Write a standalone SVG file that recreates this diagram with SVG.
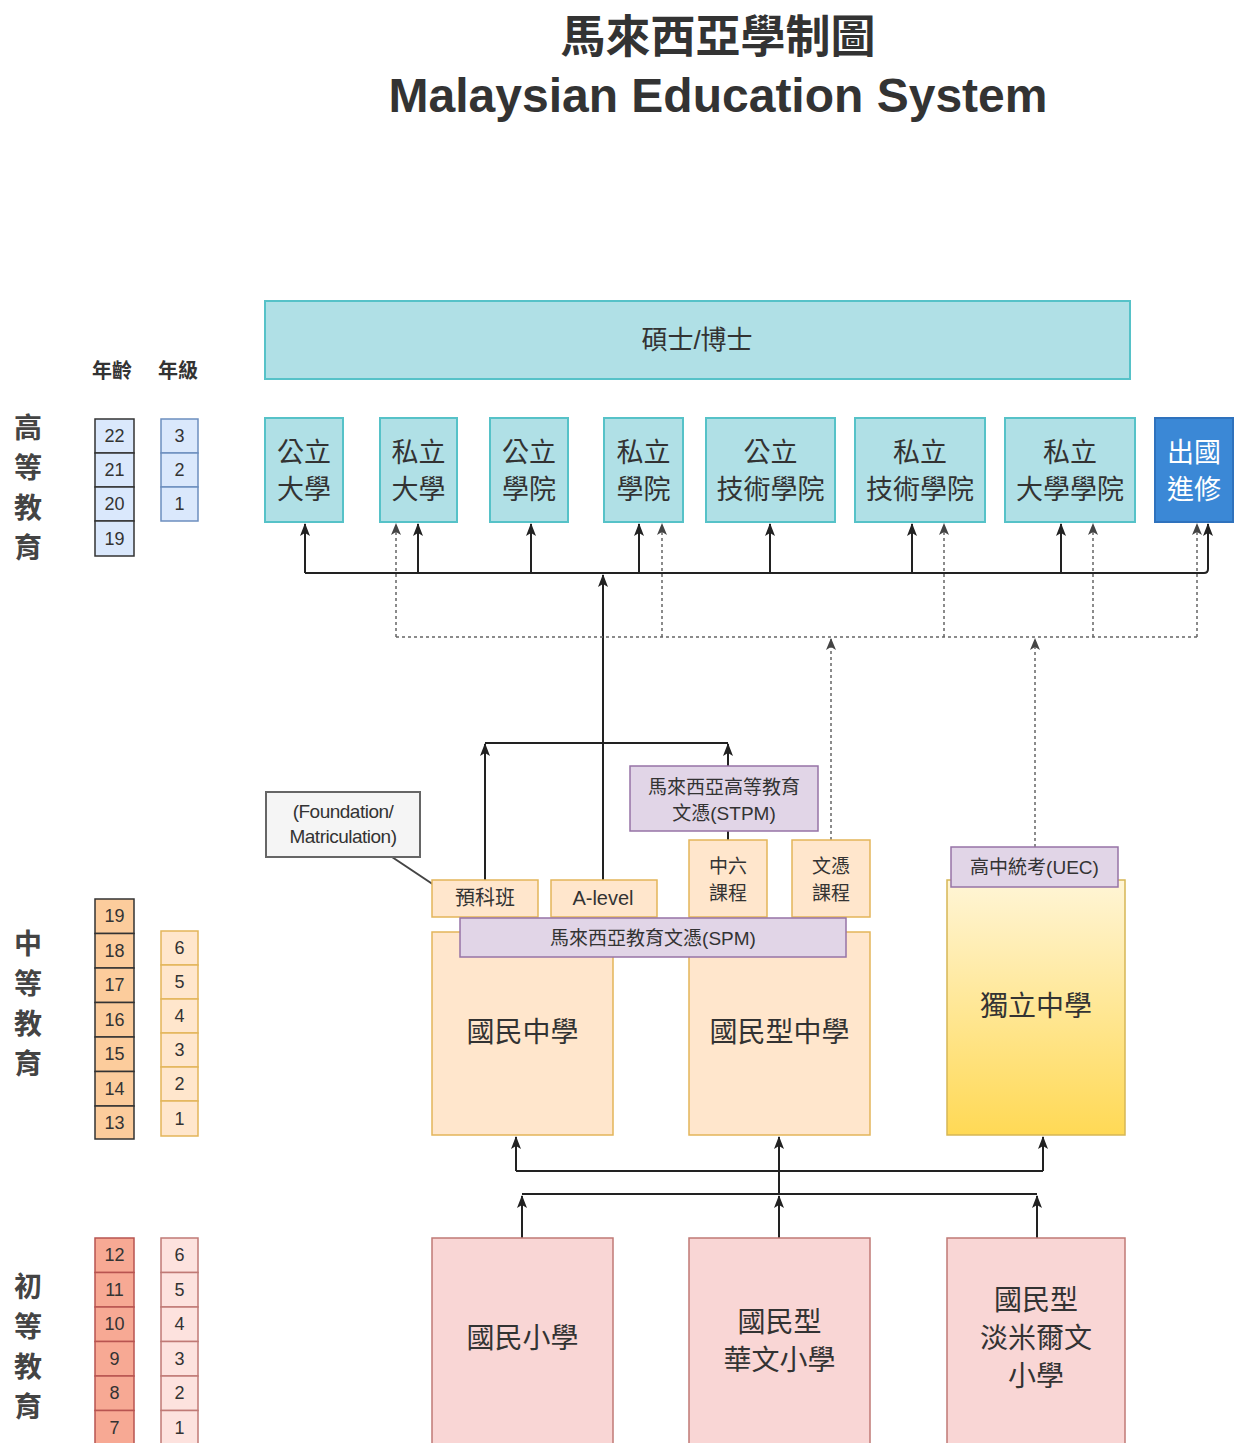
<svg xmlns="http://www.w3.org/2000/svg" width="1238" height="1443" viewBox="0 0 1238 1443">
<style>
.cjk{font-family:"Noto Sans CJK TC","Noto Sans CJK SC",sans-serif;fill:#333;text-anchor:middle}
.lat{font-family:"Liberation Sans",Arial,sans-serif;fill:#333;text-anchor:middle}
.mix{font-family:"Liberation Sans","Noto Sans CJK TC",sans-serif;fill:#333;text-anchor:middle}
.uni{fill:#b0e0e6;stroke:#56c2c8;stroke-width:2}
.sec{fill:#ffe6cc;stroke:#e3b55a;stroke-width:1.5}
.exam{fill:#e1d5e7;stroke:#9673a6;stroke-width:1.5}
.pri{fill:#f9d6d5;stroke:#c07a76;stroke-width:1.5}
.solid{fill:none;stroke:#222;stroke-width:2}
.dash{fill:none;stroke:#666;stroke-width:1.5;stroke-dasharray:3 3}
.num{font-family:"Liberation Sans",Arial,sans-serif;font-size:18px;fill:#333;text-anchor:middle}
.side{font-family:"Noto Sans CJK TC",sans-serif;font-size:28px;font-weight:bold;fill:#444;text-anchor:middle}
</style>
<defs>
<marker id="ah" markerWidth="13" markerHeight="10" refX="12" refY="5" orient="auto" markerUnits="userSpaceOnUse" viewBox="0 0 13 10">
<path d="M0 0 L13 5 L0 10 L3 5 Z" fill="#222"/>
</marker>
<marker id="ahg" markerWidth="12" markerHeight="10" refX="11" refY="5" orient="auto" markerUnits="userSpaceOnUse" viewBox="0 0 12 10">
<path d="M0 0 L12 5 L0 10 L3 5 Z" fill="#444"/>
</marker>
<linearGradient id="gy" x1="0" y1="0" x2="0" y2="1">
<stop offset="0" stop-color="#fff5d6"/>
<stop offset="1" stop-color="#ffd955"/>
</linearGradient>
</defs>

<g id="title">
<text x="718" y="53" class="cjk" font-size="45" font-weight="bold">馬來西亞學制圖</text>
<text x="718" y="112" class="lat" font-size="48" font-weight="bold">Malaysian Education System</text>
</g>

<g id="legend-headers">
<text x="112" y="378" class="cjk" font-size="20" font-weight="bold">年齡</text>
<text x="178" y="378" class="cjk" font-size="20" font-weight="bold">年級</text>
</g>

<g id="side-higher">
<text x="28" y="438" class="side">高</text>
<text x="28" y="478" class="side">等</text>
<text x="28" y="518" class="side">教</text>
<text x="28" y="558" class="side">育</text>
</g>
<g id="side-secondary">
<text x="28" y="954" class="side">中</text>
<text x="28" y="994" class="side">等</text>
<text x="28" y="1034" class="side">教</text>
<text x="28" y="1074" class="side">育</text>
</g>
<g id="side-primary">
<text x="28" y="1297" class="side">初</text>
<text x="28" y="1337" class="side">等</text>
<text x="28" y="1377" class="side">教</text>
<text x="28" y="1417" class="side">育</text>
</g>

<g id="age-higher">
<rect x="95" y="419" width="39" height="34" fill="#dae8fc" stroke="#333" stroke-width="1.5"/>
<rect x="95" y="453" width="39" height="34" fill="#dae8fc" stroke="#333" stroke-width="1.5"/>
<rect x="95" y="487" width="39" height="34" fill="#dae8fc" stroke="#333" stroke-width="1.5"/>
<rect x="95" y="521" width="39" height="35" fill="#dae8fc" stroke="#333" stroke-width="1.5"/>
<text x="114.5" y="442" class="num">22</text>
<text x="114.5" y="476" class="num">21</text>
<text x="114.5" y="510" class="num">20</text>
<text x="114.5" y="545" class="num">19</text>
</g>
<g id="grade-higher">
<rect x="161" y="419" width="37" height="34" fill="#dae8fc" stroke="#6c8ebf" stroke-width="1.5"/>
<rect x="161" y="453" width="37" height="34" fill="#dae8fc" stroke="#6c8ebf" stroke-width="1.5"/>
<rect x="161" y="487" width="37" height="34" fill="#dae8fc" stroke="#6c8ebf" stroke-width="1.5"/>
<text x="179.5" y="442" class="num">3</text>
<text x="179.5" y="476" class="num">2</text>
<text x="179.5" y="510" class="num">1</text>
</g>

<g id="age-secondary">
<rect x="95" y="899" width="39" height="34.5" fill="#fccc9c" stroke="#333" stroke-width="1.5"/>
<rect x="95" y="933.5" width="39" height="34.5" fill="#fccc9c" stroke="#333" stroke-width="1.5"/>
<rect x="95" y="968" width="39" height="34.5" fill="#fccc9c" stroke="#333" stroke-width="1.5"/>
<rect x="95" y="1002.5" width="39" height="34.5" fill="#fccc9c" stroke="#333" stroke-width="1.5"/>
<rect x="95" y="1037" width="39" height="34.5" fill="#fccc9c" stroke="#333" stroke-width="1.5"/>
<rect x="95" y="1071.5" width="39" height="34.5" fill="#fccc9c" stroke="#333" stroke-width="1.5"/>
<rect x="95" y="1106" width="39" height="33" fill="#fccc9c" stroke="#333" stroke-width="1.5"/>
<text x="114.5" y="922" class="num">19</text>
<text x="114.5" y="957" class="num">18</text>
<text x="114.5" y="991" class="num">17</text>
<text x="114.5" y="1026" class="num">16</text>
<text x="114.5" y="1060" class="num">15</text>
<text x="114.5" y="1095" class="num">14</text>
<text x="114.5" y="1129" class="num">13</text>
</g>
<g id="grade-secondary">
<rect x="161" y="931" width="37" height="34" fill="#ffe6cc" stroke="#e3b55a" stroke-width="1.5"/>
<rect x="161" y="965" width="37" height="34" fill="#ffe6cc" stroke="#e3b55a" stroke-width="1.5"/>
<rect x="161" y="999" width="37" height="34" fill="#ffe6cc" stroke="#e3b55a" stroke-width="1.5"/>
<rect x="161" y="1033" width="37" height="34" fill="#ffe6cc" stroke="#e3b55a" stroke-width="1.5"/>
<rect x="161" y="1067" width="37" height="34" fill="#ffe6cc" stroke="#e3b55a" stroke-width="1.5"/>
<rect x="161" y="1101" width="37" height="35" fill="#ffe6cc" stroke="#e3b55a" stroke-width="1.5"/>
<text x="179.5" y="954" class="num">6</text>
<text x="179.5" y="988" class="num">5</text>
<text x="179.5" y="1022" class="num">4</text>
<text x="179.5" y="1056" class="num">3</text>
<text x="179.5" y="1090" class="num">2</text>
<text x="179.5" y="1125" class="num">1</text>
</g>

<g id="age-primary">
<rect x="95" y="1238" width="39" height="34.5" fill="#f7a994" stroke="#b85450" stroke-width="1.5"/>
<rect x="95" y="1272.5" width="39" height="34.5" fill="#f7a994" stroke="#b85450" stroke-width="1.5"/>
<rect x="95" y="1307" width="39" height="34.5" fill="#f7a994" stroke="#b85450" stroke-width="1.5"/>
<rect x="95" y="1341.5" width="39" height="34.5" fill="#f7a994" stroke="#b85450" stroke-width="1.5"/>
<rect x="95" y="1376" width="39" height="34.5" fill="#f7a994" stroke="#b85450" stroke-width="1.5"/>
<rect x="95" y="1410.5" width="39" height="34.5" fill="#f7a994" stroke="#b85450" stroke-width="1.5"/>
<text x="114.5" y="1261" class="num">12</text>
<text x="114.5" y="1296" class="num">11</text>
<text x="114.5" y="1330" class="num">10</text>
<text x="114.5" y="1365" class="num">9</text>
<text x="114.5" y="1399" class="num">8</text>
<text x="114.5" y="1434" class="num">7</text>
</g>
<g id="grade-primary">
<rect x="161" y="1238" width="37" height="34.5" fill="#fde2de" stroke="#c07a76" stroke-width="1.5"/>
<rect x="161" y="1272.5" width="37" height="34.5" fill="#fde2de" stroke="#c07a76" stroke-width="1.5"/>
<rect x="161" y="1307" width="37" height="34.5" fill="#fde2de" stroke="#c07a76" stroke-width="1.5"/>
<rect x="161" y="1341.5" width="37" height="34.5" fill="#fde2de" stroke="#c07a76" stroke-width="1.5"/>
<rect x="161" y="1376" width="37" height="34.5" fill="#fde2de" stroke="#c07a76" stroke-width="1.5"/>
<rect x="161" y="1410.5" width="37" height="34.5" fill="#fde2de" stroke="#c07a76" stroke-width="1.5"/>
<text x="179.5" y="1261" class="num">6</text>
<text x="179.5" y="1296" class="num">5</text>
<text x="179.5" y="1330" class="num">4</text>
<text x="179.5" y="1365" class="num">3</text>
<text x="179.5" y="1399" class="num">2</text>
<text x="179.5" y="1434" class="num">1</text>
</g>

<g id="connectors">
<path class="solid" d="M305 573 H1204 Q1208 573 1208 569 V524" marker-end="url(#ah)"/>
<path class="solid" d="M305 573 V524" marker-end="url(#ah)"/>
<path class="solid" d="M418 573 V524" marker-end="url(#ah)"/>
<path class="solid" d="M531 573 V524" marker-end="url(#ah)"/>
<path class="solid" d="M639 573 V524" marker-end="url(#ah)"/>
<path class="solid" d="M770 573 V524" marker-end="url(#ah)"/>
<path class="solid" d="M912 573 V524" marker-end="url(#ah)"/>
<path class="solid" d="M1061 573 V524" marker-end="url(#ah)"/>
<path class="solid" d="M603 880 V575" marker-end="url(#ah)"/>
<path class="dash" d="M396 637 H1197"/>
<path class="dash" d="M396 637 V524" marker-end="url(#ahg)"/>
<path class="dash" d="M662 637 V524" marker-end="url(#ahg)"/>
<path class="dash" d="M944 637 V524" marker-end="url(#ahg)"/>
<path class="dash" d="M1093 637 V524" marker-end="url(#ahg)"/>
<path class="dash" d="M1197 637 V524" marker-end="url(#ahg)"/>
<path class="dash" d="M831 840 V639" marker-end="url(#ahg)"/>
<path class="dash" d="M1035 847 V639" marker-end="url(#ahg)"/>
<path class="solid" d="M485 743 H728"/>
<path class="solid" d="M485 880 V744" marker-end="url(#ah)"/>
<path class="solid" d="M728 766 V744" marker-end="url(#ah)"/>
<path class="solid" d="M728 840 V831"/>
<path fill="none" stroke="#444" stroke-width="2" d="M392 857 L446 893"/>
<path class="solid" d="M516 1171 H1043"/>
<path class="solid" d="M516 1171 V1137" marker-end="url(#ah)"/>
<path class="solid" d="M1043 1171 V1137" marker-end="url(#ah)"/>
<path class="solid" d="M779 1194 V1137" marker-end="url(#ah)"/>
<path class="solid" d="M522 1194 H1037"/>
<path class="solid" d="M522 1238 V1196" marker-end="url(#ah)"/>
<path class="solid" d="M779 1238 V1196" marker-end="url(#ah)"/>
<path class="solid" d="M1037 1238 V1196" marker-end="url(#ah)"/>
</g>

<g id="master-phd">
<rect x="265" y="301" width="865" height="78" class="uni"/>
<text x="697" y="349" class="mix" font-size="26">碩士/博士</text>
</g>

<g id="public-university">
<rect x="265" y="418" width="78" height="104" class="uni"/>
<text x="304" y="462" class="cjk" font-size="27">公立</text>
<text x="304" y="499" class="cjk" font-size="27">大學</text>
</g>
<g id="private-university">
<rect x="380" y="418" width="77" height="104" class="uni"/>
<text x="418.5" y="462" class="cjk" font-size="27">私立</text>
<text x="418.5" y="499" class="cjk" font-size="27">大學</text>
</g>
<g id="public-college">
<rect x="490" y="418" width="78" height="104" class="uni"/>
<text x="529" y="462" class="cjk" font-size="27">公立</text>
<text x="529" y="499" class="cjk" font-size="27">學院</text>
</g>
<g id="private-college">
<rect x="604" y="418" width="79" height="104" class="uni"/>
<text x="643.5" y="462" class="cjk" font-size="27">私立</text>
<text x="643.5" y="499" class="cjk" font-size="27">學院</text>
</g>
<g id="public-polytechnic">
<rect x="706" y="418" width="129" height="104" class="uni"/>
<text x="770.5" y="462" class="cjk" font-size="27">公立</text>
<text x="770.5" y="499" class="cjk" font-size="27">技術學院</text>
</g>
<g id="private-polytechnic">
<rect x="855" y="418" width="130" height="104" class="uni"/>
<text x="920" y="462" class="cjk" font-size="27">私立</text>
<text x="920" y="499" class="cjk" font-size="27">技術學院</text>
</g>
<g id="private-university-college">
<rect x="1005" y="418" width="130" height="104" class="uni"/>
<text x="1070" y="462" class="cjk" font-size="27">私立</text>
<text x="1070" y="499" class="cjk" font-size="27">大學學院</text>
</g>
<g id="study-abroad">
<rect x="1155" y="418" width="78" height="104" fill="#3b88d6" stroke="#2f72bd" stroke-width="2"/>
<text x="1194" y="462" class="cjk" font-size="27" style="fill:#fff">出國</text>
<text x="1194" y="499" class="cjk" font-size="27" style="fill:#fff">進修</text>
</g>

<g id="foundation-note">
<rect x="266" y="792" width="154" height="65" fill="#f5f5f5" stroke="#666" stroke-width="2"/>
<text x="343" y="818" class="lat" font-size="19" letter-spacing="-0.5">(Foundation/</text>
<text x="343" y="843" class="lat" font-size="19" letter-spacing="-0.5">Matriculation)</text>
</g>

<g id="stpm">
<rect x="630" y="766" width="188" height="65" class="exam"/>
<text x="724" y="794" class="cjk" font-size="19">馬來西亞高等教育</text>
<text x="724" y="820" class="mix" font-size="19">文憑(STPM)</text>
</g>

<g id="national-secondary">
<rect x="432" y="932" width="181" height="203" class="sec"/>
<text x="522.5" y="1042" class="cjk" font-size="28">國民中學</text>
</g>
<g id="national-type-secondary">
<rect x="689" y="932" width="181" height="203" class="sec"/>
<text x="779.5" y="1042" class="cjk" font-size="28">國民型中學</text>
</g>

<g id="pre-university">
<rect x="432" y="880" width="106" height="37" class="sec"/>
<text x="485" y="905" class="cjk" font-size="20">預科班</text>
</g>
<g id="a-level">
<rect x="551" y="880" width="106" height="37" class="sec"/>
<text x="603" y="905" class="lat" font-size="20">A-level</text>
</g>
<g id="form-six">
<rect x="689" y="840" width="78" height="77" class="sec"/>
<text x="728" y="873" class="cjk" font-size="19">中六</text>
<text x="728" y="900" class="cjk" font-size="19">課程</text>
</g>
<g id="diploma">
<rect x="792" y="840" width="78" height="77" class="sec"/>
<text x="831" y="873" class="cjk" font-size="19">文憑</text>
<text x="831" y="900" class="cjk" font-size="19">課程</text>
</g>

<g id="spm">
<rect x="460" y="918" width="386" height="39" class="exam"/>
<text x="653" y="945" class="mix" font-size="19">馬來西亞教育文憑(SPM)</text>
</g>

<g id="independent-secondary">
<rect x="947" y="880" width="178" height="255" fill="url(#gy)" stroke="#d6b656" stroke-width="1.5"/>
<text x="1036" y="1016" class="cjk" font-size="28">獨立中學</text>
</g>
<g id="uec">
<rect x="951" y="847" width="167" height="40" class="exam"/>
<text x="1034.5" y="874" class="mix" font-size="19">高中統考(UEC)</text>
</g>

<g id="national-primary">
<rect x="432" y="1238" width="181" height="215" class="pri"/>
<text x="522.5" y="1348" class="cjk" font-size="28">國民小學</text>
</g>
<g id="chinese-primary">
<rect x="689" y="1238" width="181" height="215" class="pri"/>
<text x="779.5" y="1332" class="cjk" font-size="28">國民型</text>
<text x="779.5" y="1370" class="cjk" font-size="28">華文小學</text>
</g>
<g id="tamil-primary">
<rect x="947" y="1238" width="178" height="215" class="pri"/>
<text x="1036" y="1310" class="cjk" font-size="28">國民型</text>
<text x="1036" y="1348" class="cjk" font-size="28">淡米爾文</text>
<text x="1036" y="1386" class="cjk" font-size="28">小學</text>
</g>
</svg>
